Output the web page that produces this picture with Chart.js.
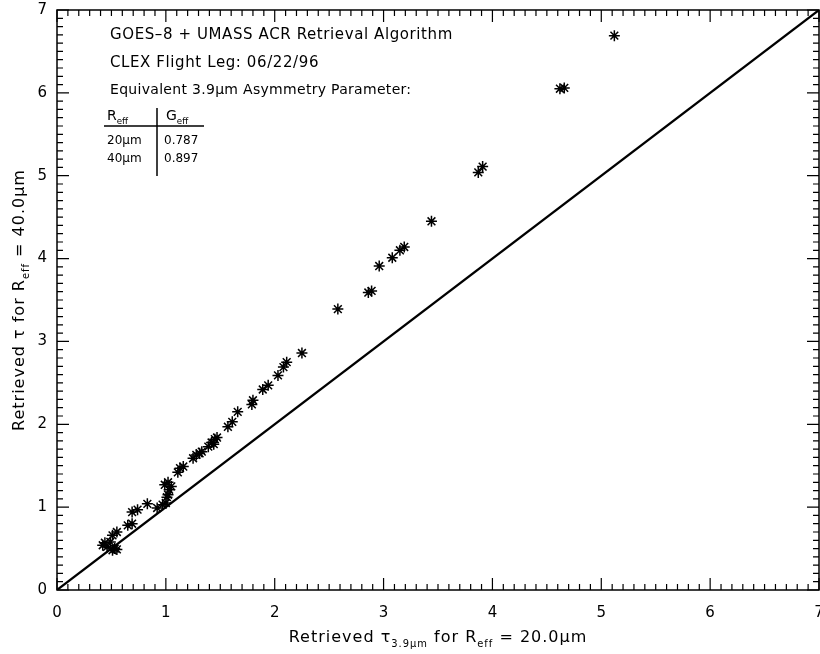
<!DOCTYPE html>
<html>
<head>
<meta charset="utf-8">
<script src="https://cdn.jsdelivr.net/npm/chart.js@4"></script>
<style>
  body { margin: 0; background: #fff; }
  #wrap { width: 820px; height: 654px; }
</style>
</head>
<body>
<div id="wrap"><canvas id="tauChart"></canvas></div>
<script>
// optical depth retrieved with Reff = 20um (x) and Reff = 40um (y)
var tau20 = [0.42, 0.44, 0.46, 0.49, 0.51, 0.53, 0.55, 0.51, 0.55, 0.65,
             0.69, 0.69, 0.74, 0.83, 0.92, 0.97, 1.00, 1.01, 1.02, 1.03,
             0.99, 1.02, 1.05, 1.11, 1.13, 1.16, 1.25, 1.28, 1.31, 1.33,
             1.39, 1.42, 1.44, 1.45, 1.47, 1.57, 1.61, 1.66, 1.79, 1.80,
             1.89, 1.94, 2.03, 2.08, 2.11, 2.25, 2.58, 2.86, 2.89, 2.96,
             3.08, 3.15, 3.19, 3.44, 3.87, 3.91, 4.62, 4.66, 5.12];
var tau40 = [0.54, 0.57, 0.52, 0.58, 0.48, 0.50, 0.49, 0.66, 0.70, 0.78,
             0.80, 0.94, 0.97, 1.04, 0.99, 1.03, 1.05, 1.12, 1.15, 1.21,
             1.27, 1.30, 1.25, 1.42, 1.47, 1.49, 1.59, 1.63, 1.65, 1.67,
             1.73, 1.78, 1.76, 1.82, 1.84, 1.97, 2.03, 2.15, 2.24, 2.29,
             2.42, 2.47, 2.59, 2.69, 2.75, 2.86, 3.39, 3.59, 3.61, 3.91,
             4.01, 4.10, 4.14, 4.45, 5.04, 5.11, 6.05, 6.06, 6.69];

// 1:1 reference line
var oneToOne = [0, 7];

var axisMin = 0;
var axisMax = 7;

// asymmetry parameter table
var tableReff = ['20\u03bcm', '40\u03bcm'];
var tableGeff = ['0.787', '0.897'];

var FONT = '"DejaVu Sans", sans-serif';

var points = tau20.map(function (v, i) { return { x: v, y: tau40[i] }; });
var linePts = oneToOne.map(function (v) { return { x: v, y: v }; });

// text with subscript runs: parts = [[text, isSub], ...]
function drawRich(ctx, parts, x, y, size) {
    var total = 0;
    parts.forEach(function (p) {
        ctx.font = (p[1] ? size * 0.62 : size) + 'px ' + FONT;
        total += ctx.measureText(p[0]).width;
    });
    drawRichLeft(ctx, parts, x - total / 2, y, size);
}

function drawRichLeft(ctx, parts, x, y, size) {
    var cx = x;
    ctx.textAlign = 'left';
    ctx.textBaseline = 'alphabetic';
    parts.forEach(function (p) {
        ctx.font = (p[1] ? size * 0.62 : size) + 'px ' + FONT;
        ctx.fillText(p[0], cx, p[1] ? y + size * 0.3 : y);
        cx += ctx.measureText(p[0]).width;
    });
}

// frame, inward major/minor ticks on all four sides, titles and notes
var framePlugin = {
    id: 'frame',
    afterDraw: function (chart) {
        var ctx = chart.ctx;
        var a = chart.chartArea;
        var xs = chart.scales.x;
        var ys = chart.scales.y;
        ctx.save();
        ctx.strokeStyle = '#000';
        ctx.lineWidth = 1.5;
        ctx.strokeRect(a.left, a.top, a.right - a.left, a.bottom - a.top);
        ctx.lineWidth = 1.2;
        ctx.beginPath();
        for (var i = 0; i <= 70; i++) {
            var v = i / 10;
            var len = (i % 10 === 0) ? 12 : 6;
            var px = xs.getPixelForValue(v);
            ctx.moveTo(px, a.bottom); ctx.lineTo(px, a.bottom - len);
            ctx.moveTo(px, a.top); ctx.lineTo(px, a.top + len);
            var py = ys.getPixelForValue(v);
            ctx.moveTo(a.left, py); ctx.lineTo(a.left + len, py);
            ctx.moveTo(a.right, py); ctx.lineTo(a.right - len, py);
        }
        ctx.stroke();

        ctx.fillStyle = '#000';
        // axis titles
        ctx.letterSpacing = '1px';
        drawRich(ctx, [['Retrieved \u03c4', false], ['3.9\u03bcm', true],
                       [' for R', false], ['eff', true], [' = 20.0\u03bcm', false]],
                 (a.left + a.right) / 2, 642, 16);
        ctx.save();
        ctx.translate(24, (a.top + a.bottom) / 2);
        ctx.rotate(-Math.PI / 2);
        drawRich(ctx, [['Retrieved \u03c4 for R', false], ['eff', true],
                       [' = 40.0\u03bcm', false]], 0, 0, 16);
        ctx.restore();

        // annotation block
        ctx.letterSpacing = '0.6px';
        ctx.font = '15px ' + FONT;
        ctx.textAlign = 'left';
        ctx.textBaseline = 'alphabetic';
        ctx.fillText('GOES\u20138 + UMASS ACR Retrieval Algorithm', 110, 39);
        ctx.fillText('CLEX Flight Leg: 06/22/96', 110, 67);
        ctx.letterSpacing = '0.3px';
        ctx.font = '14px ' + FONT;
        ctx.fillText('Equivalent 3.9\u03bcm Asymmetry Parameter:', 110, 94);

        ctx.letterSpacing = '0px';
        drawRichLeft(ctx, [['R', false], ['eff', true]], 107, 120, 14);
        drawRichLeft(ctx, [['G', false], ['eff', true]], 166, 120, 14);
        ctx.font = '12px ' + FONT;
        for (var r = 0; r < tableReff.length; r++) {
            ctx.fillText(tableReff[r], 107, 144 + r * 18);
            ctx.fillText(tableGeff[r], 164, 144 + r * 18);
        }
        ctx.lineWidth = 1.5;
        ctx.beginPath();
        ctx.moveTo(104, 126); ctx.lineTo(204, 126);
        ctx.moveTo(157, 108); ctx.lineTo(157, 176);
        ctx.stroke();
        ctx.restore();
    }
};

var ctx = document.getElementById('tauChart').getContext('2d');
new Chart(ctx, {
    type: 'scatter',
    data: {
        datasets: [{
            data: points,
            pointStyle: 'star',
            pointRadius: 5.5,
            pointBorderWidth: 1.5,
            borderColor: '#000',
            backgroundColor: '#000',
            showLine: false
        }, {
            data: linePts,
            showLine: true,
            pointRadius: 0,
            borderColor: '#000',
            borderWidth: 2.2
        }]
    },
    options: {
        responsive: true,
        maintainAspectRatio: false,
        animation: false,
        events: [],
        layout: { autoPadding: false, padding: { top: 10, right: 1, left: 0, bottom: 0 } },
        plugins: {
            legend: { display: false },
            tooltip: { enabled: false }
        },
        scales: {
            x: {
                type: 'linear',
                min: axisMin,
                max: axisMax,
                grid: { display: false },
                border: { display: false },
                ticks: {
                    stepSize: 1,
                    color: '#000',
                    padding: 6,
                    font: { family: FONT, size: 15 }
                },
                afterFit: function (scale) {
                    scale.height = 64;
                    scale.paddingLeft = 0;
                    scale.paddingRight = 0;
                }
            },
            y: {
                type: 'linear',
                min: axisMin,
                max: axisMax,
                grid: { display: false },
                border: { display: false },
                ticks: {
                    stepSize: 1,
                    color: '#000',
                    padding: 2,
                    font: { family: FONT, size: 15 }
                },
                afterFit: function (scale) {
                    scale.width = 57;
                    scale.paddingTop = 0;
                    scale.paddingBottom = 0;
                }
            }
        }
    },
    plugins: [framePlugin]
});
</script>
</body>
</html>
